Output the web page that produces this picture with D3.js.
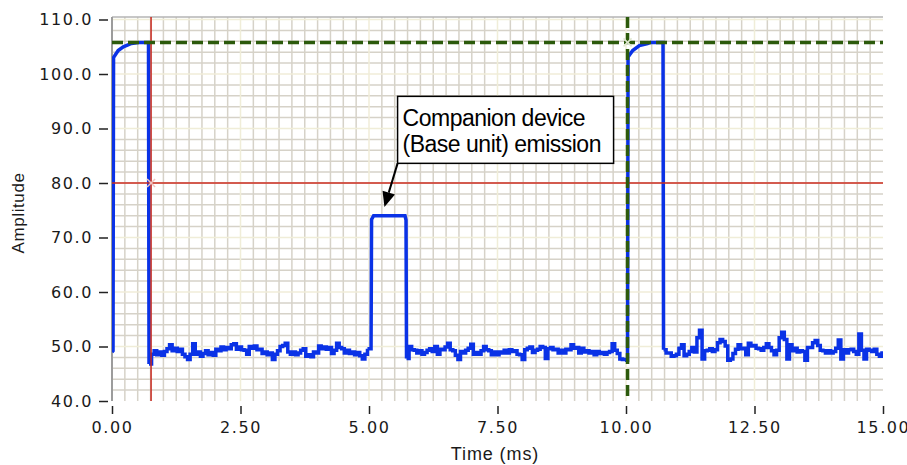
<!DOCTYPE html>
<html>
<head>
<meta charset="utf-8">
<script src="https://cdn.jsdelivr.net/npm/d3@7"></script>
<style>
  body { margin: 0; background: #fff; }
  svg { display: block; }
</style>
</head>
<body>
<svg id="chart" width="907" height="465"></svg>
<script>
// axis ticks
const timeTicks = [0, 2.5, 5, 7.5, 10, 12.5, 15];
const ampTicks = [40, 50, 60, 70, 80, 90, 100, 110];

// pulse edges, [time (ms), amplitude]
const pulseMain1 = [[0.0, 49.0], [0.02, 49.2], [0.03, 103.0], [0.12, 104.3], [0.22, 105.0], [0.38, 105.6], [0.54, 105.8], [0.71, 105.8], [0.72, 46.8]];
const pulseCompanion = [[4.97, 49.6], [5.04, 49.6], [5.05, 73.3], [5.09, 74.0], [5.70, 74.0], [5.72, 73.2], [5.73, 47.8]];
const pulseMain2 = [[9.98, 47.5], [10.03, 47.5], [10.04, 103.1], [10.13, 104.3], [10.26, 105.2], [10.42, 105.6], [10.48, 105.8], [10.72, 105.8], [10.73, 49.4]];

// noise floor between pulses, sampled every noiseDt ms from each start time
const noiseDt = 0.05;
const noiseStarts = [0.72, 5.73, 10.73];
const noiseA = [46.8, 48.6, 49.2, 48.5, 49.0, 48.4, 49.1, 49.6, 50.3, 49.2, 49.7, 49.1, 49.5, 48.6, 48.1, 47.6, 48.6, 50.5, 48.6, 49.0,
  48.2, 48.7, 49.2, 48.5, 48.9, 48.4, 49.5, 49.2, 49.9, 49.4, 49.8, 49.6, 50.3, 50.5, 49.5, 49.9, 49.4, 49.3, 48.6, 50.0,
  49.7, 50.1, 49.4, 49.5, 48.7, 49.0, 48.5, 48.8, 47.6, 48.6, 49.2, 50.0, 50.2, 50.6, 49.0, 48.6, 49.0, 48.5, 48.8, 49.3,
  49.6, 48.2, 48.5, 48.1, 49.0, 48.8, 50.1, 49.6, 49.9, 49.5, 49.8, 48.7, 49.3, 50.6, 49.8, 49.6, 48.8, 49.3, 48.7, 49.0,
  48.5, 48.9, 48.3, 47.7, 48.6, 49.6];
const noiseB = [47.8, 50.0, 49.4, 49.3, 48.8, 49.2, 48.6, 48.9, 49.3, 49.6, 49.1, 50.0, 48.6, 49.5, 49.4, 49.9, 50.6, 49.4, 49.2, 48.4,
  47.6, 49.1, 48.8, 49.3, 49.7, 50.4, 48.6, 48.9, 48.6, 49.2, 50.0, 49.4, 49.2, 48.5, 49.0, 48.5, 49.0, 48.8, 49.3, 48.8,
  49.4, 49.1, 49.2, 48.6, 48.5, 47.6, 49.4, 49.7, 49.9, 48.9, 49.3, 49.5, 50.0, 49.8, 47.8, 49.6, 49.8, 49.4, 49.5, 48.8,
  49.3, 48.8, 49.5, 49.4, 50.3, 49.7, 49.8, 48.8, 49.7, 49.0, 49.2, 48.8, 49.1, 48.5, 49.1, 48.7, 48.9, 48.6, 48.9, 49.1,
  50.5, 49.3, 48.7, 47.7, 47.6, 47.5];
const noiseC = [49.4, 48.8, 48.8, 48.2, 48.3, 48.6, 49.7, 50.3, 48.3, 48.6, 49.1, 49.8, 49.0, 51.6, 53.0, 47.7, 49.2, 49.3, 49.6, 49.1,
  49.4, 50.7, 51.3, 50.9, 50.1, 47.5, 47.7, 48.7, 49.5, 50.3, 49.6, 49.7, 48.5, 50.6, 50.1, 50.2, 49.7, 49.6, 49.3, 49.8,
  50.5, 49.8, 49.2, 48.5, 49.3, 51.6, 52.6, 51.3, 47.7, 50.3, 49.2, 49.7, 49.0, 49.2, 49.1, 47.5, 49.8, 49.8, 50.7, 51.1,
  50.2, 49.3, 49.2, 48.8, 49.2, 48.8, 49.1, 49.7, 51.2, 47.7, 49.4, 48.8, 49.4, 49.5, 49.1, 48.6, 52.3, 49.3, 47.7, 49.5,
  49.3, 49.1, 49.5, 48.6, 48.2, 48.8, 48.5];

// cursors [time, amplitude] and annotation
const cursorRed = [0.76, 80];
const cursorGreen = [10.03, 105.8];
const noteBox = [5.556, 95.9];
const noteTip = [5.30, 75.6];
const noteLines = ["Companion device", "(Base unit) emission"];

const svg = d3.select("#chart");
const x = d3.scaleLinear().domain([0, 15]).range([112, 883]);
const y = d3.scaleLinear().domain([40, 110]).range([401, 19.5]);
const plotTop = 17, plotBottom = y(40), plotLeft = x(0), plotRight = x(15);

svg.append("defs").append("clipPath").attr("id", "plotclip")
  .append("rect").attr("x", plotLeft).attr("y", plotTop)
  .attr("width", plotRight - plotLeft).attr("height", plotBottom - plotTop);

// grid: minor every 0.25 ms / 2 units, major every 2.5 ms / 10 units
const gx = d3.range(0, 15.001, 0.25);
const gy = d3.range(40, 110.001, 2);
const isMajX = t => Math.abs(t / 2.5 - Math.round(t / 2.5)) < 1e-6;
const isMajY = v => Math.abs(v / 10 - Math.round(v / 10)) < 1e-6;

const grid = svg.append("g").attr("stroke-width", 1.5);
grid.selectAll(".vmin").data(gx.filter(t => !isMajX(t) && t > 0)).enter().append("line")
  .attr("x1", d => x(d)).attr("x2", d => x(d)).attr("y1", plotTop).attr("y2", plotBottom)
  .attr("stroke", "#d6d2c8");
grid.selectAll(".hmin").data(gy.filter(v => !isMajY(v))).enter().append("line")
  .attr("x1", plotLeft).attr("x2", plotRight).attr("y1", d => y(d)).attr("y2", d => y(d))
  .attr("stroke", "#d6d2c8");
grid.selectAll(".vmaj").data(timeTicks.filter(t => t > 0 && t < 15)).enter().append("line")
  .attr("x1", d => x(d)).attr("x2", d => x(d)).attr("y1", plotTop).attr("y2", plotBottom)
  .attr("stroke", "#f0edd8");
grid.selectAll(".hmaj").data(ampTicks.filter(v => v > 40)).enter().append("line")
  .attr("x1", plotLeft).attr("x2", plotRight).attr("y1", d => y(d)).attr("y2", d => y(d))
  .attr("stroke", "#f0edd8");

// plot frame (left + top only)
svg.append("line").attr("x1", plotLeft).attr("x2", plotRight).attr("y1", plotTop).attr("y2", plotTop)
  .attr("stroke", "#b4b4b4").attr("stroke-width", 1.5);
svg.append("line").attr("x1", plotLeft).attr("x2", plotLeft).attr("y1", plotTop).attr("y2", plotBottom)
  .attr("stroke", "#9c9c9c").attr("stroke-width", 2);

// trace
const traces = svg.append("g").attr("clip-path", "url(#plotclip)")
  .attr("fill", "none").attr("stroke", "#0a32e6").attr("stroke-width", 3.5)
  .attr("stroke-linejoin", "miter");

const edgeLine = d3.line().x(d => x(d[0])).y(d => y(d[1]));
const noiseLine = d3.line().curve(d3.curveStepAfter).x(d => x(d[0])).y(d => y(d[1]));

[pulseMain1, pulseCompanion, pulseMain2].forEach(p => traces.append("path").attr("d", edgeLine(p)));
[noiseA, noiseB, noiseC].forEach((vals, k) => {
  const pts = vals.map((v, i) => [noiseStarts[k] + i * noiseDt, v]);
  traces.append("path").attr("d", noiseLine(pts));
});

// cursors
const cur = svg.append("g").attr("clip-path", "url(#plotclip)");
cur.append("line").attr("x1", plotLeft).attr("x2", plotRight)
  .attr("y1", y(cursorRed[1])).attr("y2", y(cursorRed[1]))
  .attr("stroke", "#c8281e").attr("stroke-width", 1.5);
cur.append("line").attr("x1", x(cursorRed[0])).attr("x2", x(cursorRed[0]))
  .attr("y1", plotTop).attr("y2", plotBottom)
  .attr("stroke", "#c8281e").attr("stroke-width", 1.5);
cur.append("line").attr("x1", plotLeft).attr("x2", plotRight)
  .attr("y1", y(cursorGreen[1])).attr("y2", y(cursorGreen[1]))
  .attr("stroke", "#2c5a0c").attr("stroke-width", 3.5).attr("stroke-dasharray", "11,5");
cur.append("line").attr("x1", x(cursorGreen[0])).attr("x2", x(cursorGreen[0]))
  .attr("y1", plotTop).attr("y2", plotBottom)
  .attr("stroke", "#2c5a0c").attr("stroke-width", 3.5).attr("stroke-dasharray", "11,5");

function cursorMark(c, col) {
  const cx = x(c[0]), cy = y(c[1]), r = 4;
  const g = svg.append("g").attr("stroke", col).attr("stroke-width", 1.5);
  g.append("line").attr("x1", cx - r).attr("y1", cy - r).attr("x2", cx + r).attr("y2", cy + r);
  g.append("line").attr("x1", cx - r).attr("y1", cy + r).attr("x2", cx + r).attr("y2", cy - r);
}
cursorMark(cursorRed, "#f2c4c0");
cursorMark(cursorGreen, "#dfe6cf");

// axes
const yAxis = svg.append("g").attr("transform", "translate(108,0)")
  .call(d3.axisLeft(y).tickValues(ampTicks).tickFormat(d3.format(".1f")).tickSize(9).tickPadding(6));
const xAxis = svg.append("g").attr("transform", "translate(0,406)")
  .call(d3.axisBottom(x).tickValues(timeTicks).tickFormat(d3.format(".2f")).tickSize(8).tickPadding(8));
[yAxis, xAxis].forEach(a => {
  a.select(".domain").remove();
  a.selectAll(".tick line").attr("stroke", "#222").attr("stroke-width", 1.5);
  a.selectAll("text").attr("fill", "#1a1a1a")
    .style("font-family", "'DejaVu Sans', sans-serif").style("font-size", "16px")
    .style("letter-spacing", "1.6px");
});

svg.append("text").attr("x", 495).attr("y", 460).attr("text-anchor", "middle")
  .style("font-family", "'Liberation Sans', Arial, sans-serif").style("font-size", "18px")
  .style("letter-spacing", "0.9px").attr("fill", "#1a1a1a").text("Time (ms)");
svg.append("text").attr("transform", "translate(24,213) rotate(-90)").attr("text-anchor", "middle")
  .style("font-family", "'Liberation Sans', Arial, sans-serif").style("font-size", "17px")
  .style("letter-spacing", "0.6px").attr("fill", "#1a1a1a").text("Amplitude");

// annotation
const bx = x(noteBox[0]), by = y(noteBox[1]), bw = 216, bh = 67;
const tx = x(noteTip[0]), ty = y(noteTip[1]);
const sx = bx, sy = by + bh;
const ang = Math.atan2(ty - sy, tx - sx), hl = 15, hw = 6.5;
const hbx = tx - hl * Math.cos(ang), hby = ty - hl * Math.sin(ang);
svg.append("line").attr("x1", sx).attr("y1", sy).attr("x2", hbx).attr("y2", hby)
  .attr("stroke", "#000").attr("stroke-width", 2);
svg.append("polygon").attr("fill", "#000").attr("points", [
  [tx, ty],
  [hbx + hw * Math.sin(ang), hby - hw * Math.cos(ang)],
  [hbx - hw * Math.sin(ang), hby + hw * Math.cos(ang)]
].map(p => p.join(",")).join(" "));
svg.append("rect").attr("x", bx).attr("y", by).attr("width", bw).attr("height", bh)
  .attr("fill", "#fff").attr("stroke", "#000").attr("stroke-width", 1.5);
svg.selectAll(".note").data(noteLines).enter().append("text")
  .attr("x", bx + 5).attr("y", (d, i) => by + 30 + i * 26)
  .style("font-family", "'Liberation Sans', Arial, sans-serif").style("font-size", "23px")
  .style("letter-spacing", "-0.5px").attr("fill", "#000").text(d => d);
</script>
</body>
</html>
